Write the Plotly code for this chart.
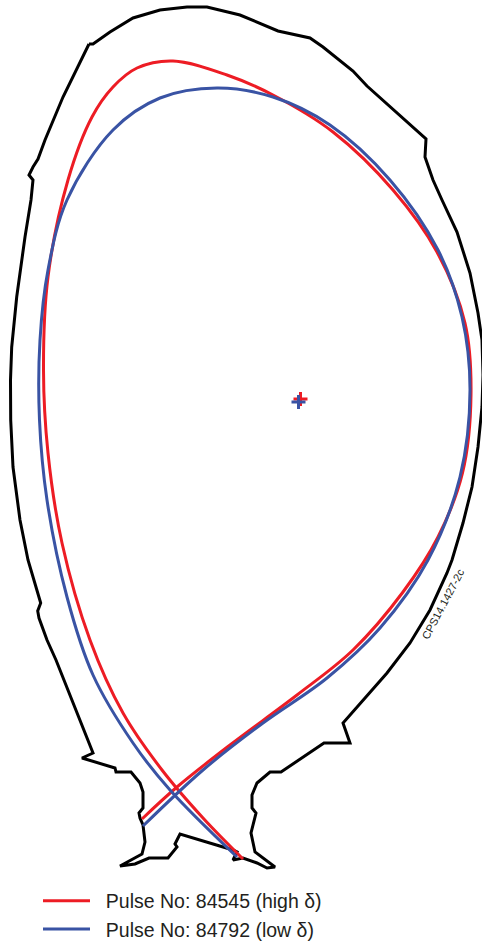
import plotly.graph_objects as go

wall_x = [89,93,110,133,160,187,207,233,240,278,310,323,353,367,426,425,433,442,457,470,478,482,483,482,478,472,463,452,447,430,410,387,363,352,343,350,324,281,270,257,252,252,256,251,255,275,267,257,243,233,237,233,180,175,177,168,149,135,120,142,145,143,140,139,143,143,140,131,116,115,82,93,56,47,39,37.7,40.7,28,20,13,10.7,10.5,11.7,16.7,25,31,33,29,33,38,45,63,89]
wall_y = [44,44,32,18,10,7,7,13,15,31,38,47,71,86,139,157,180,200,232,273,313,340,375,407,447,487,523,560,573,610,643,673,700,712,723,743,743,772,772,783,795,808,813,833,852,867,868,863,858,860,852,850,834,844,847,858,858,864,866,854,842,825,818,813,808,792,783,772,772,768,758,753,660,640,618,611,603,560,520,467,420,380,347,297,237,200,180,175,167,159,140,97,44]

red_x = [243,203,162,123,90,62,48,43.5,48,68,92,113,137,173,227,273,333,393,437,465,471,462.5,438,403,353,297,230,177,142]
red_y = [859,818,770,713,640,543,453,370,277,180,117,87,68,61,75,95,132,190,252,323,395,473,537,592,650,695,745,787,819]

blue_x = [237,170,133,93,67,47,39.5,40,48,67,113,160,217,273,330,390,438,462,470,460,428,380,327,263,203,143]
blue_y = [857,790,743,675,597,500,420,340,270,200,130,98,88,97,125,180,250,317,390,477,560,628,678,723,770,826]

axis_x = [300.5, 298.5]
axis_y = [399, 402]
axis_colours = ["#ed1c24", "#3953a4"]
series_names = ["\u00a0\u00a0Pulse No: 84545 (high δ)", "\u00a0\u00a0Pulse No: 84792 (low δ)"]
figure_code = "CPS14.1427-2c"

fig = go.Figure()
fig.add_trace(go.Scatter(x=wall_x, y=wall_y, mode="lines", showlegend=False,
                         line=dict(color="#000000", width=3, shape="linear")))
fig.add_trace(go.Scatter(x=red_x, y=red_y, mode="lines", name=series_names[0], legendgroup="a",
                         line=dict(color=axis_colours[0], width=3, shape="spline", smoothing=1.0)))
fig.add_trace(go.Scatter(x=blue_x, y=blue_y, mode="lines", name=series_names[1], legendgroup="b",
                         line=dict(color=axis_colours[1], width=3, shape="spline", smoothing=1.0)))
for i in range(2):
    fig.add_trace(go.Scatter(x=[axis_x[i]], y=[axis_y[i]], mode="markers", showlegend=False,
                             marker=dict(symbol="cross-thin", size=10,
                                         line=dict(color=axis_colours[i], width=3))))

fig.add_annotation(x=443, y=604, text=figure_code, textangle=-62, showarrow=False,
                   font=dict(family="Liberation Sans", size=11, color="#231f20"))

fig.update_layout(
    width=482, height=943, margin=dict(l=0, r=0, t=0, b=0, autoexpand=False),
    paper_bgcolor="white", plot_bgcolor="white",
    xaxis=dict(visible=False, range=[0, 482], fixedrange=True),
    yaxis=dict(visible=False, range=[943, 0], fixedrange=True),
    font=dict(family="Liberation Sans", color="#231f20"),
    legend=dict(x=38/482, y=1-881.5/943, xanchor="left", yanchor="top",
                font=dict(size=19.5), itemwidth=47, tracegroupgap=1,
                bgcolor="rgba(0,0,0,0)", borderwidth=0, traceorder="normal"),
)

fig.write_html("out.html", config={"displayModeBar": False},
               post_script="document.body.style.margin='0';document.body.style.overflow='hidden';")
